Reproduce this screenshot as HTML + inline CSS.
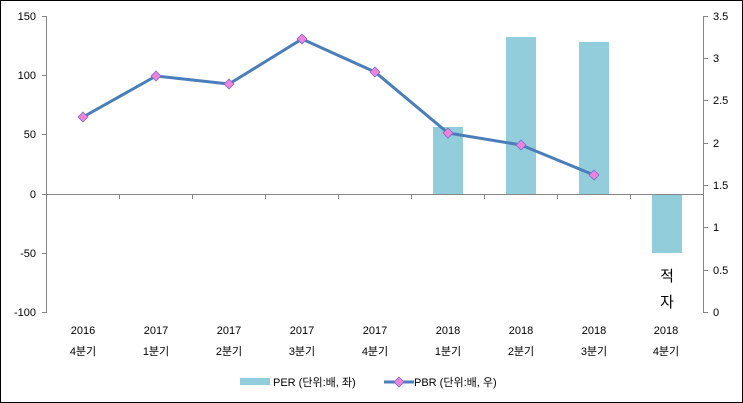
<!DOCTYPE html>
<html><head><meta charset="utf-8"><style>
html,body{margin:0;padding:0;background:#fff}
svg{display:block}
text{font-family:"Liberation Sans","Noto Sans CJK KR",sans-serif;fill:#000}
</style></head><body>
<svg width="743" height="403" viewBox="0 0 743 403" xmlns="http://www.w3.org/2000/svg">
<rect x="0.5" y="0.5" width="742" height="402" fill="#fff" stroke="#000"/>
<!-- bars -->
<g fill="#92CDDC">
<rect x="433" y="127" width="30" height="67"/>
<rect x="506" y="37" width="30" height="157"/>
<rect x="579" y="42" width="30" height="152"/>
<rect x="652" y="194" width="30" height="59"/>
</g>
<!-- axes -->
<g stroke="#868686" stroke-width="1" fill="none">
<line x1="46.5" y1="16" x2="46.5" y2="313"/>
<line x1="42" y1="16.5" x2="46.5" y2="16.5"/>
<line x1="42" y1="75.5" x2="46.5" y2="75.5"/>
<line x1="42" y1="134.5" x2="46.5" y2="134.5"/>
<line x1="42" y1="194.5" x2="46.5" y2="194.5"/>
<line x1="42" y1="253.5" x2="46.5" y2="253.5"/>
<line x1="42" y1="312.5" x2="46.5" y2="312.5"/>
<line x1="703.5" y1="16" x2="703.5" y2="313"/>
<line x1="703.5" y1="16.5" x2="708" y2="16.5"/>
<line x1="703.5" y1="58.5" x2="708" y2="58.5"/>
<line x1="703.5" y1="100.5" x2="708" y2="100.5"/>
<line x1="703.5" y1="143.5" x2="708" y2="143.5"/>
<line x1="703.5" y1="185.5" x2="708" y2="185.5"/>
<line x1="703.5" y1="227.5" x2="708" y2="227.5"/>
<line x1="703.5" y1="270.5" x2="708" y2="270.5"/>
<line x1="703.5" y1="312.5" x2="708" y2="312.5"/>
<line x1="46.5" y1="194.5" x2="703.5" y2="194.5"/>
<line x1="119.5" y1="194.5" x2="119.5" y2="199"/>
<line x1="192.5" y1="194.5" x2="192.5" y2="199"/>
<line x1="265.5" y1="194.5" x2="265.5" y2="199"/>
<line x1="338.5" y1="194.5" x2="338.5" y2="199"/>
<line x1="411.5" y1="194.5" x2="411.5" y2="199"/>
<line x1="484.5" y1="194.5" x2="484.5" y2="199"/>
<line x1="557.5" y1="194.5" x2="557.5" y2="199"/>
<line x1="630.5" y1="194.5" x2="630.5" y2="199"/>
</g>
<!-- left labels -->
<g font-size="11" text-anchor="end">
<text x="36" y="20">150</text>
<text x="36" y="79">100</text>
<text x="36" y="138">50</text>
<text x="36" y="198">0</text>
<text x="36" y="257">-50</text>
<text x="36" y="316">-100</text>
</g>
<g font-size="11" text-anchor="start">
<text x="713" y="20">3.5</text>
<text x="713" y="62">3</text>
<text x="713" y="104">2.5</text>
<text x="713" y="147">2</text>
<text x="713" y="189">1.5</text>
<text x="713" y="231">1</text>
<text x="713" y="274">0.5</text>
<text x="713" y="316">0</text>
</g>
<!-- category labels -->
<g font-size="11" text-anchor="middle">
<text x="83" y="334">2016</text><text x="83" y="355">4분기</text>
<text x="156" y="334">2017</text><text x="156" y="355">1분기</text>
<text x="229" y="334">2017</text><text x="229" y="355">2분기</text>
<text x="302" y="334">2017</text><text x="302" y="355">3분기</text>
<text x="375" y="334">2017</text><text x="375" y="355">4분기</text>
<text x="448" y="334">2018</text><text x="448" y="355">1분기</text>
<text x="521" y="334">2018</text><text x="521" y="355">2분기</text>
<text x="594" y="334">2018</text><text x="594" y="355">3분기</text>
<text x="666" y="334">2018</text><text x="666" y="355">4분기</text>
</g>
<text x="667" y="281" font-size="15" text-anchor="middle">적</text>
<text x="667" y="307" font-size="15" text-anchor="middle">자</text>
<!-- line -->
<polyline points="83,117 156,76 229,84 302,39 375,72 448,133 521,145 594,175" fill="none" stroke="#4A7EBB" stroke-width="3" stroke-linejoin="round"/>
<g fill="#F081DC" stroke="#7B6FC9" stroke-width="0.8">
<path d="M83,112 l5,5 l-5,5 l-5,-5z"/>
<path d="M156,71 l5,5 l-5,5 l-5,-5z"/>
<path d="M229,79 l5,5 l-5,5 l-5,-5z"/>
<path d="M302,34 l5,5 l-5,5 l-5,-5z"/>
<path d="M375,67 l5,5 l-5,5 l-5,-5z"/>
<path d="M448,128 l5,5 l-5,5 l-5,-5z"/>
<path d="M521,140 l5,5 l-5,5 l-5,-5z"/>
<path d="M594,170 l5,5 l-5,5 l-5,-5z"/>
</g>
<!-- legend -->
<rect x="240" y="378" width="30" height="7" fill="#92CDDC"/>
<text x="273" y="386" font-size="11">PER (단위:배, 좌)</text>
<line x1="384" y1="382" x2="414" y2="382" stroke="#4A7EBB" stroke-width="3"/>
<path d="M399,377 l5,5 l-5,5 l-5,-5z" fill="#F081DC" stroke="#7B6FC9" stroke-width="0.8"/>
<text x="414" y="386" font-size="11">PBR (단위:배, 우)</text>
</svg>
</body></html>
